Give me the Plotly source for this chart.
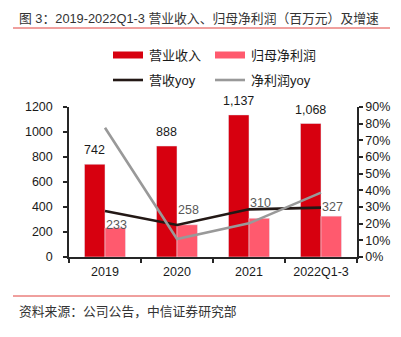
import plotly.graph_objects as go

categories = ["2019", "2020", "2021", "2022Q1-3"]
revenue = [742, 888, 1137, 1068]
net_profit = [233, 258, 310, 327]
revenue_yoy = [0.276, 0.192, 0.286, 0.296]
profit_yoy = [0.776, 0.108, 0.202, 0.386]
revenue_labels = ["742", "888", "1,137", "1,068"]
profit_labels = ["233", "258", "310", "327"]
left_ticks = [0, 200, 400, 600, 800, 1000, 1200]
right_ticks = [0, 0.1, 0.2, 0.3, 0.4, 0.5, 0.6, 0.7, 0.8, 0.9]
legend_names = ["营业收入", "归母净利润", "营收yoy", "净利润yoy"]

W, H = 401, 337
ML, MR, MT, MB = 69, 44, 107, 80
PW = W - ML - MR
PH = H - MT - MB


def px_x(x):
    return (x - ML) / PW


def px_y(y):
    return (H - MB - y) / PH


FONT = "Arial, 'Liberation Sans', 'Noto Sans CJK SC', sans-serif"
RED = "#D7000F"
PINK = "#FF5A6E"
DARK = "#231815"
GRAY = "#999999"
AXIS = "#262626"
BARGAP = 0.43

fig = go.Figure()
fig.add_trace(go.Bar(x=categories, y=revenue, marker_color=RED, name=legend_names[0]))
fig.add_trace(go.Bar(x=categories, y=net_profit, marker_color=PINK, name=legend_names[1]))
fig.add_trace(go.Scatter(x=categories, y=revenue_yoy, yaxis="y2", mode="lines",
                         line=dict(color=DARK, width=2.6), name=legend_names[2]))
fig.add_trace(go.Scatter(x=categories, y=profit_yoy, yaxis="y2", mode="lines",
                         line=dict(color=GRAY, width=2.6), name=legend_names[3]))

annotations = []
bar_half = PW / len(categories) * (1 - BARGAP) / 4
rev_shift = [5, 5, 5, 5]
prof_shift = [-6, 6, 6, 0]
for i, (v, t, s) in enumerate(zip(revenue, revenue_labels, rev_shift)):
    annotations.append(dict(x=i, y=v, text=t, showarrow=False, xref="x", yref="y",
                            xanchor="center", yanchor="bottom", xshift=-bar_half,
                            yshift=s, font=dict(size=12.5, color="#1a1a1a", family=FONT)))
for i, (v, t, s) in enumerate(zip(net_profit, profit_labels, prof_shift)):
    annotations.append(dict(x=i, y=v, text=t, showarrow=False, xref="x", yref="y",
                            xanchor="center", yanchor="bottom", xshift=bar_half + 1,
                            yshift=s, font=dict(size=12.5, color="#595959", family=FONT)))

annotations.append(dict(x=px_x(17), y=px_y(18), xref="paper", yref="paper",
                        xanchor="left", yanchor="middle", showarrow=False,
                        text="图 3：2019-2022Q1-3 营业收入、归母净利润（百万元）及增速",
                        font=dict(size=12.8, color="#333333", family=FONT)))
annotations.append(dict(x=px_x(17), y=px_y(311), xref="paper", yref="paper",
                        xanchor="left", yanchor="middle", showarrow=False,
                        text="资料来源：公司公告，中信证券研究部",
                        font=dict(size=12.8, color="#333333", family=FONT)))

shapes = [
    dict(type="line", xref="paper", yref="paper", x0=px_x(13), x1=px_x(390),
         y0=px_y(28), y1=px_y(28), line=dict(color="#E0403C", width=1)),
    dict(type="line", xref="paper", yref="paper", x0=px_x(13), x1=px_x(390),
         y0=px_y(296), y1=px_y(296), line=dict(color="#E0403C", width=1)),
]

# legend (drawn manually so the bar swatches are wide strips as in the original)
legend_items = [
    (legend_names[0], RED, 7, 113, 55),
    (legend_names[1], PINK, 7, 215, 55),
    (legend_names[2], DARK, 2.6, 113, 80),
    (legend_names[3], GRAY, 2.6, 215, 80),
]
for name, color, width, lx, ly in legend_items:
    shapes.append(dict(type="line", xref="paper", yref="paper", x0=px_x(lx),
                       x1=px_x(lx + 30), y0=px_y(ly), y1=px_y(ly),
                       line=dict(color=color, width=width)))
    annotations.append(dict(x=px_x(lx + 34), y=px_y(ly), xref="paper", yref="paper",
                            xanchor="left", yanchor="middle", showarrow=False,
                            text=name, font=dict(size=13, color="#1a1a1a", family=FONT)))

fig.update_layout(
    width=W, height=H,
    margin=dict(l=ML, r=MR, t=MT, b=MB, pad=0, autoexpand=False),
    paper_bgcolor="white", plot_bgcolor="white",
    barmode="group", bargap=BARGAP, bargroupgap=0,
    font=dict(family=FONT, size=12.5, color="#1a1a1a"),
    showlegend=False,
    xaxis=dict(type="category", range=[-0.5, len(categories) - 0.5],
               showline=True, linecolor=AXIS, linewidth=1.5,
               ticks="outside", tickson="boundaries", ticklen=4, tickcolor=AXIS,
               tickwidth=1.5, showgrid=False, ticklabelstandoff=2,
               tickfont=dict(size=12.5, color="#1a1a1a")),
    yaxis=dict(range=[0, 1200], tickvals=left_ticks, showline=True, linecolor=AXIS,
               linewidth=1.5, ticks="outside", ticklen=4, tickcolor=AXIS, tickwidth=1.5,
               showgrid=False, zeroline=False, ticklabelstandoff=8,
               tickfont=dict(size=12.5, color="#1a1a1a")),
    yaxis2=dict(range=[0, 0.9], tickvals=right_ticks, tickformat=".0%",
                overlaying="y", side="right", showline=True, linecolor=AXIS,
                linewidth=1.5, ticks="outside", ticklen=4, tickcolor=AXIS,
                tickwidth=1.5, showgrid=False, zeroline=False,
                tickfont=dict(size=12.5, color="#1a1a1a")),
    annotations=annotations,
    shapes=shapes,
)

fig.write_html("out.html")
